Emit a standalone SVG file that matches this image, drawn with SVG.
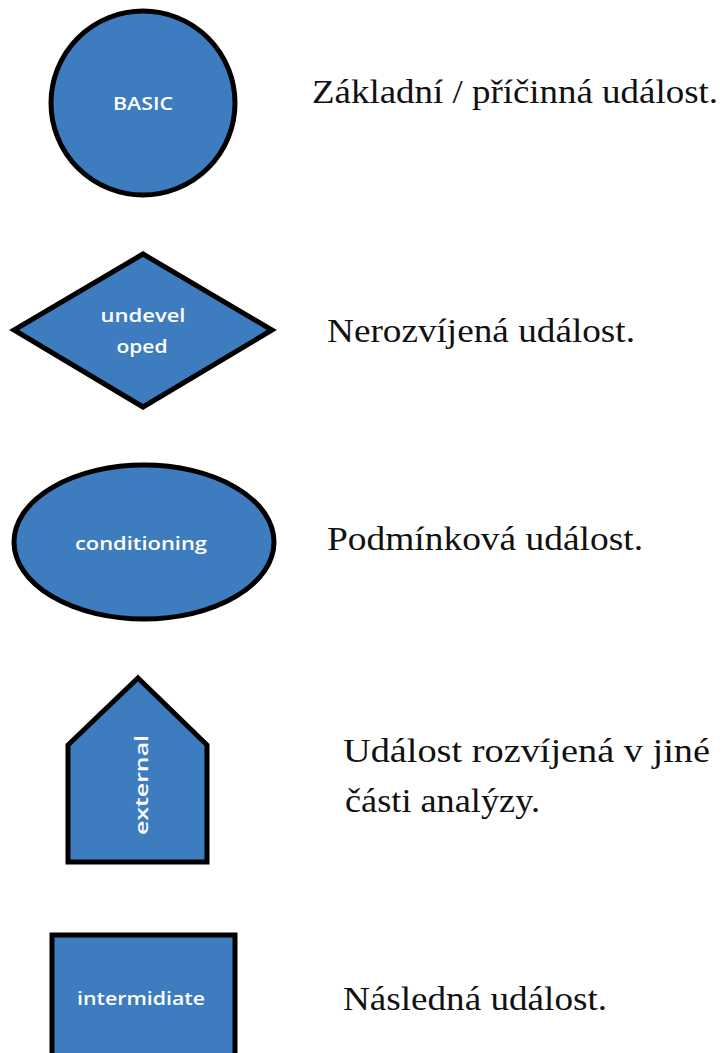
<svg xmlns="http://www.w3.org/2000/svg" width="727" height="1053" viewBox="0 0 727 1053">
  <style>
    .shape { fill: #3d7cbf; stroke: #000; stroke-width: 5; stroke-linejoin: miter; }
    .lbl { fill: #fff; font-family: "Open Sans", Lato, "DejaVu Sans", sans-serif; font-weight: 600; font-size: 18px; text-anchor: middle; }
    .desc { fill: #111; font-family: "Liberation Serif", "Times New Roman", serif; font-size: 33px; }
  </style>
  <rect width="727" height="1053" fill="#fff"/>

  <!-- basic event -->
  <g id="basic">
    <circle class="shape" cx="143" cy="103" r="92"/>
    <text class="lbl" x="143" y="110" textLength="60" lengthAdjust="spacingAndGlyphs">BASIC</text>
  </g>
  <g id="basic-desc">
    <text class="desc" x="312" y="103" textLength="406" lengthAdjust="spacingAndGlyphs">Základní / příčinná událost.</text>
  </g>

  <!-- undeveloped event -->
  <g id="undeveloped">
    <polygon class="shape" points="143,254 272,330 143,407 14,330"/>
    <text class="lbl" x="143" y="322" textLength="85" lengthAdjust="spacingAndGlyphs">undevel</text>
    <text class="lbl" x="142" y="353" textLength="51" lengthAdjust="spacingAndGlyphs">oped</text>
  </g>
  <g id="undeveloped-desc">
    <text class="desc" x="327" y="342" textLength="308" lengthAdjust="spacingAndGlyphs">Nerozvíjená událost.</text>
  </g>

  <!-- conditioning event -->
  <g id="conditioning">
    <ellipse class="shape" cx="144" cy="542" rx="130" ry="77"/>
    <text class="lbl" x="141" y="550" textLength="132" lengthAdjust="spacingAndGlyphs">conditioning</text>
  </g>
  <g id="conditioning-desc">
    <text class="desc" x="327" y="550" textLength="316" lengthAdjust="spacingAndGlyphs">Podmínková událost.</text>
  </g>

  <!-- external event -->
  <g id="external">
    <polygon class="shape" points="138,678 207,745 207,862 68,862 68,745"/>
    <text class="lbl" transform="translate(148,785) rotate(-90)" x="0" y="0" textLength="100" lengthAdjust="spacingAndGlyphs">external</text>
  </g>
  <g id="external-desc">
    <text class="desc" x="343" y="762" textLength="367" lengthAdjust="spacingAndGlyphs">Událost rozvíjená v jiné</text>
    <text class="desc" x="345" y="812" textLength="195" lengthAdjust="spacingAndGlyphs">části analýzy.</text>
  </g>

  <!-- intermediate event -->
  <g id="intermediate">
    <rect class="shape" x="52" y="935" width="183" height="130"/>
    <text class="lbl" x="141" y="1005" textLength="128" lengthAdjust="spacingAndGlyphs">intermidiate</text>
  </g>
  <g id="intermediate-desc">
    <text class="desc" x="343" y="1010" textLength="264" lengthAdjust="spacingAndGlyphs">Následná událost.</text>
  </g>

  <!-- no connectors in this legend -->
  <g id="connectors"/>
</svg>
